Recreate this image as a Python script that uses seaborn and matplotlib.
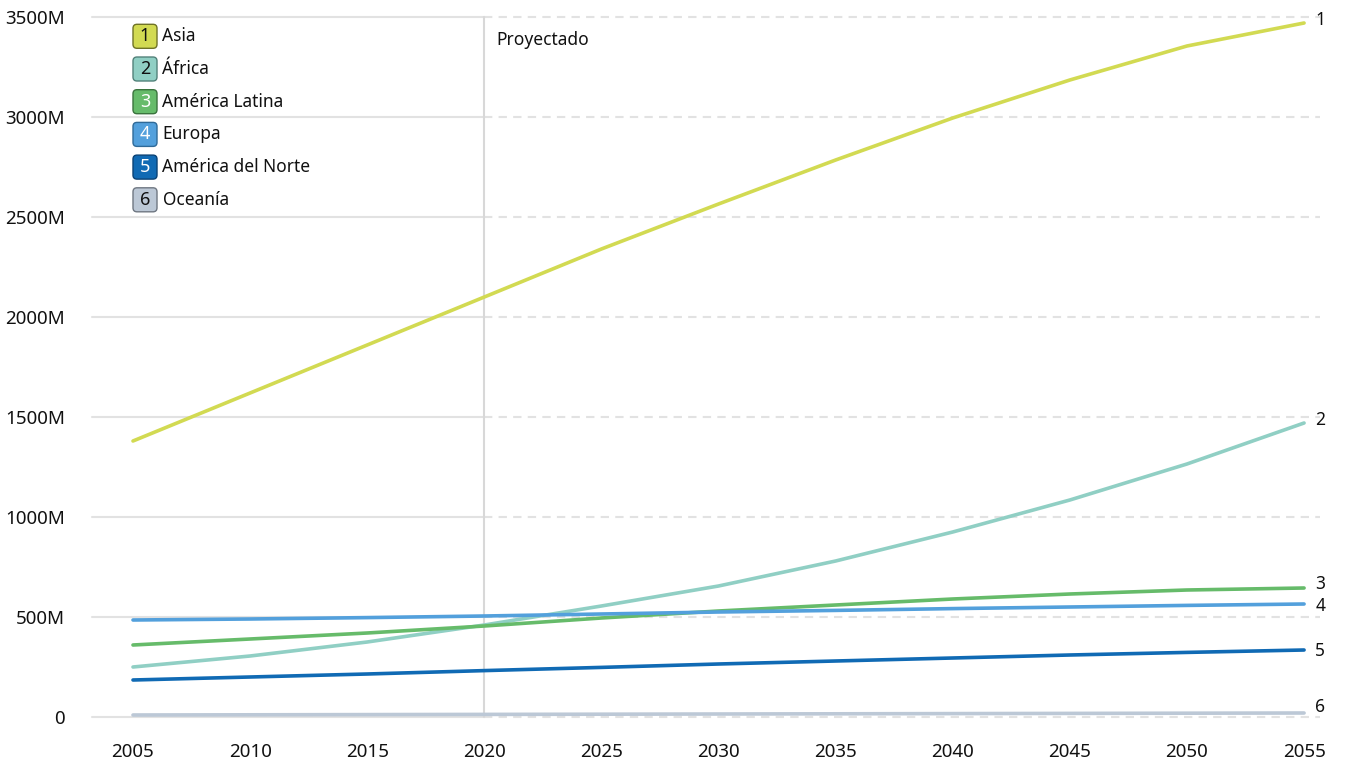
import matplotlib
matplotlib.use("Agg")
import matplotlib.pyplot as plt
from matplotlib.patches import FancyBboxPatch
import seaborn as sns
import pandas as pd
from matplotlib.ticker import FuncFormatter

years = [2005, 2010, 2015, 2020, 2025, 2030, 2035, 2040, 2045, 2050, 2055]
asia = [1380, 1620, 1860, 2100, 2340, 2565, 2785, 2995, 3185, 3355, 3470]
africa = [250, 305, 375, 460, 555, 655, 780, 925, 1085, 1265, 1470]
latam = [360, 390, 420, 455, 495, 530, 560, 590, 615, 635, 645]
europe = [485, 490, 497, 505, 515, 525, 533, 542, 550, 558, 565]
namerica = [185, 200, 215, 232, 248, 265, 280, 295, 310, 323, 335]
oceania = [10, 11, 12, 13, 14, 15, 16, 17, 18, 19, 20]

regions = ["Asia", "África", "América Latina", "Europa", "América del Norte", "Oceanía"]
series = [asia, africa, latam, europe, namerica, oceania]
colors = ["#d2da52", "#90cfc4", "#66bb6a", "#53a0dc", "#106ab4", "#bcc8d6"]
num_colors = ["#111111", "#111111", "#ffffff", "#ffffff", "#ffffff", "#111111"]
edge_colors = ["#6f7326", "#52827a", "#3a733d", "#2f6a98", "#0a4275", "#6f7782"]
label_dy = [2, 2.5, 3, -1.5, -1, 4]  # points offsets for end labels

yticks = [0, 500, 1000, 1500, 2000, 2500, 3000, 3500]
xticks = list(range(2005, 2056, 5))
proj_year = 2020

df = pd.DataFrame(
    [(y, r, v) for r, s in zip(regions, series) for y, v in zip(years, s)],
    columns=["year", "region", "value"],
)

sns.set_theme(style="white")
plt.rcParams["font.family"] = ["Noto Sans", "DejaVu Sans"]

W, H = 1349, 765
fig = plt.figure(figsize=(W / 100, H / 100), dpi=100)
ax = fig.add_axes([92 / W, 1 - 717 / H, (1320 - 92) / W, 700 / H])

ax.set_xlim(2003.25, 2055.68)
ax.set_ylim(0, 3500)

# gridlines: solid before projection, dashed after
for yv in yticks:
    ax.plot([2003.25, proj_year], [yv, yv], color="#e2e2e2", lw=1.5, zorder=0, clip_on=False)
    ax.plot([proj_year, 2055.68], [yv, yv], color="#e2e2e2", lw=1.5, ls=(0, (4, 3)), zorder=0, clip_on=False)
ax.axvline(proj_year, color="#d8d8d8", lw=1.5, zorder=0)
ax.text(proj_year + 0.5, 3385, "Proyectado", fontsize=12.5, color="#111111", va="center", ha="left")

sns.lineplot(data=df, x="year", y="value", hue="region", palette=dict(zip(regions, colors)),
             hue_order=regions, linewidth=2.6, legend=False, ax=ax)
for ln in ax.lines:
    ln.set_clip_on(False)
    ln.set_solid_capstyle("round")
    ln.set_solid_joinstyle("round")

# end labels
for i, (s, dy) in enumerate(zip(series, label_dy)):
    ax.annotate(str(i + 1), xy=(years[-1], s[-1]), xytext=(8, dy), textcoords="offset points",
                fontsize=12.5, color="#111111", va="center", ha="left")

# custom legend with numbered square boxes
for i, r in enumerate(regions):
    ypix = 36.3 + i * 32.7
    yin = (H - ypix) / 100
    box = FancyBboxPatch((1.33, yin - 0.12), 0.24, 0.24,
                         boxstyle="round,pad=0,rounding_size=0.04",
                         fc=colors[i], ec=edge_colors[i], lw=1.0,
                         transform=fig.dpi_scale_trans, figure=fig)
    fig.patches.append(box)
    fig.text(1.45 / (W / 100), yin / (H / 100), str(i + 1), fontsize=13, color=num_colors[i],
             ha="center", va="center")
    fig.text(162.5 / W, yin / (H / 100), r, fontsize=12.5, color="#111111", ha="left", va="center")

ax.set_xticks(xticks)
ax.set_yticks(yticks)
ax.yaxis.set_major_formatter(FuncFormatter(lambda v, p: "0" if v == 0 else f"{int(v)}M"))
ax.tick_params(axis="both", length=0, labelsize=13.5, colors="#111111")
ax.tick_params(axis="y", pad=19.4)
ax.tick_params(axis="x", pad=19)
ax.set_xlabel("")
ax.set_ylabel("")
for sp in ax.spines.values():
    sp.set_visible(False)

fig.savefig("out.png", dpi=100)
